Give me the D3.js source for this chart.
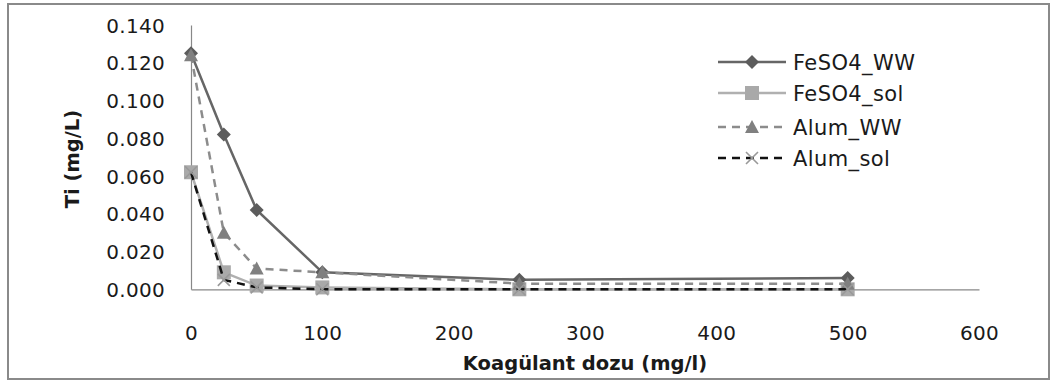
<!DOCTYPE html>
<html>
<head>
<meta charset="utf-8">
<script src="https://cdn.jsdelivr.net/npm/d3@7"></script>
<style>
  html, body { margin: 0; padding: 0; background: #fff; }
  svg { display: block; }
  text { font-family: "DejaVu Sans", sans-serif; fill: #1a1a1a; }
</style>
</head>
<body>
<svg id="chart" width="1057" height="383"></svg>
<script>
// Coagulant dose (mg/l) on x, Ti concentration (mg/L) on y
const doses = [0, 25, 50, 100, 250, 500];
const feso4WW  = [0.125, 0.082, 0.042, 0.009, 0.005, 0.006];
const feso4Sol = [0.062, 0.009, 0.002, 0.001, 0.000, 0.000];
const alumWW   = [0.124, 0.030, 0.011, 0.009, 0.003, 0.003];
const alumSol  = [0.062, 0.005, 0.001, 0.000, 0.000, 0.000];
const seriesNames = ["FeSO4_WW", "FeSO4_sol", "Alum_WW", "Alum_sol"];
const xTicks = [0, 100, 200, 300, 400, 500, 600];
const yTicks = [0, 0.02, 0.04, 0.06, 0.08, 0.10, 0.12, 0.14];

const series = [
  { name: seriesNames[0], values: feso4WW,  stroke: "#666666", dash: null,  marker: "diamond",  fill: "#5c5c5c" },
  { name: seriesNames[1], values: feso4Sol, stroke: "#b0b0b0", dash: null,  marker: "square",   fill: "#a9a9a9" },
  { name: seriesNames[2], values: alumWW,   stroke: "#8c8c8c", dash: "8,6", marker: "triangle", fill: "#808080" },
  { name: seriesNames[3], values: alumSol,  stroke: "#111111", dash: "8,6", marker: "cross",    fill: "#999999" }
];

const svg = d3.select("#chart");

// outer frame
svg.append("rect")
  .attr("x", 8).attr("y", 4).attr("width", 1041).attr("height", 375)
  .attr("fill", "#fff").attr("stroke", "#8a8a8a").attr("stroke-width", 2);

const x = d3.scaleLinear().domain([0, 600]).range([191, 979]);
const y = d3.scaleLinear().domain([0, 0.14]).range([289.3, 25]);

// y axis
const yAxis = svg.append("g").attr("transform", `translate(${x(0)},0)`)
  .call(d3.axisLeft(y).tickValues(yTicks).tickSize(0).tickPadding(26).tickFormat(d3.format(".3f")));
yAxis.select(".domain").attr("stroke", "#888").attr("stroke-width", 1.2);
yAxis.selectAll("text").style("font-size", "20px").style("letter-spacing", "0.3px")
  .attr("fill", "#1a1a1a").attr("dy", "0.36em");

// x axis
const xAxis = svg.append("g").attr("transform", `translate(0,${y(0)})`)
  .call(d3.axisBottom(x).tickValues(xTicks).tickSize(0).tickPadding(37).tickFormat(d3.format("d")));
xAxis.select(".domain").attr("stroke", "#888").attr("stroke-width", 1.2);
xAxis.selectAll("text").style("font-size", "20px").style("letter-spacing", "0.3px").attr("fill", "#1a1a1a");

// axis titles
svg.append("text")
  .attr("x", 585).attr("y", 370)
  .attr("text-anchor", "middle")
  .style("font-size", "19.5px").style("font-weight", "bold")
  .text("Koagülant dozu (mg/l)");

svg.append("text")
  .attr("transform", "translate(79,159) rotate(-90)")
  .attr("text-anchor", "middle")
  .style("font-size", "19.5px").style("font-weight", "bold")
  .text("Ti (mg/L)");

// marker shapes
function drawMarker(g, type, fill) {
  if (type === "diamond") {
    g.append("path").attr("d", "M0,-7L7,0L0,7L-7,0Z").attr("fill", fill);
  } else if (type === "square") {
    g.append("rect").attr("x", -7).attr("y", -7).attr("width", 14).attr("height", 14).attr("fill", fill);
  } else if (type === "triangle") {
    g.append("path").attr("d", "M0,-7L7,6L-7,6Z").attr("fill", fill);
  } else {
    g.append("path").attr("d", "M-6,-6L6,6M-6,6L6,-6").attr("stroke", fill).attr("stroke-width", 1.6).attr("fill", "none");
  }
}

const line = d3.line().x(d => x(d[0])).y(d => y(d[1]));

series.forEach(s => {
  const pts = doses.map((d, i) => [d, s.values[i]]);
  svg.append("path")
    .datum(pts)
    .attr("d", line)
    .attr("fill", "none")
    .attr("stroke", s.stroke)
    .attr("stroke-width", 2.5)
    .attr("stroke-dasharray", s.dash);
  pts.forEach(p => {
    const g = svg.append("g").attr("transform", `translate(${x(p[0])},${y(p[1])})`);
    drawMarker(g, s.marker, s.fill);
  });
});

// legend
const legendRows = [62, 93, 127, 158];
series.forEach((s, i) => {
  const ly = legendRows[i];
  svg.append("line")
    .attr("x1", 718).attr("x2", 786).attr("y1", ly).attr("y2", ly)
    .attr("stroke", s.stroke).attr("stroke-width", 2.5)
    .attr("stroke-dasharray", s.dash);
  const g = svg.append("g").attr("transform", `translate(752,${ly})`);
  drawMarker(g, s.marker, s.fill);
  svg.append("text")
    .attr("x", 793).attr("y", ly).attr("dy", "0.36em")
    .style("font-size", "21px").style("letter-spacing", "0.4px")
    .text(s.name);
});
</script>
</body>
</html>
